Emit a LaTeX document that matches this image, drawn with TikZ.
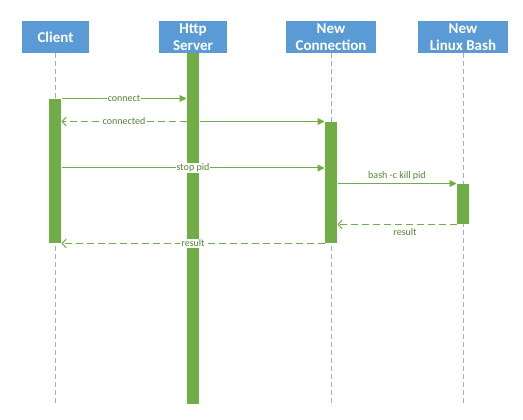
\documentclass[tikz,border=0pt]{standalone}
\usepackage{fontspec}
\setmainfont{Carlito}
\usepackage{tikz}
\usetikzlibrary{
    positioning,
    arrows.meta,
    calc
}
\definecolor{BoxBlue}{RGB}{91,155,213}
\definecolor{BarGreen}{RGB}{112,173,71}
\definecolor{MsgText}{RGB}{84,130,53}
\definecolor{LifeBlue}{RGB}{150,175,215}

\begin{document}
\begin{tikzpicture}[
            x=1pt, y=-1pt,
            line width=1pt,
            actor/.style={rectangle, fill=BoxBlue, text=white, minimum height=32pt, inner sep=0pt, align=center, font=\fontsize{15}{17}\selectfont\bfseries},
            bar/.style={rectangle, fill=BarGreen, minimum width=12pt, inner sep=0pt},
            lifeline/.style={draw=LifeBlue, line width=1pt, dash pattern=on 5pt off 3pt},
            msg/.style={draw=BarGreen, -{Triangle[length=7pt, width=7pt]}},
            ret/.style={draw=BarGreen, dash pattern=on 7pt off 4pt, -{Straight Barb[length=4pt, width=9pt]}},
            lbl/.style={font=\fontsize{10}{12}\selectfont, text=MsgText, inner sep=1pt},
        ]
        \useasboundingbox (0,0) rectangle (523,420);

        % ===== Actors =====
        \node[actor, minimum width=67pt] (client) at (55.5,37) {Client};
        \node[actor, minimum width=68pt] (http) at (193,37) {Http\\Server};
        \node[actor, minimum width=90pt] (conn) at (331,37) {New\\Connection};
        \node[actor, minimum width=90pt] (bash) at (463,37) {New\\Linux Bash};

        % ===== Lifelines =====
        \coordinate (bottom) at (0,403);
        \draw[lifeline] (client.south -| 55,0) -- (bottom -| 55,0);
        \draw[lifeline] (conn.south) -- (conn.south |- bottom);
        \draw[lifeline] (bash.south) -- (bash.south |- bottom);

        % ===== Activations =====
        \node[bar, minimum height=144pt] (clientbar) at (55,171) {};
        \node[bar, minimum height=351pt] (httpbar) at (193,228.5) {};
        \node[bar, minimum height=121pt] (connbar) at (331,182.5) {};
        \node[bar, minimum height=40pt] (bashbar) at (463,204) {};

        % ===== Messages =====
        \coordinate (stop) at (0,168);

        \draw[msg] (clientbar.north east) -- node[lbl, fill=white] {connect} (clientbar.north east -| httpbar.west);
        \draw[ret] (connbar.north -| httpbar.west) -- node[lbl, fill=white] {connected} (connbar.north -| clientbar.east);
        \draw[msg] (connbar.north -| httpbar.east) -- (connbar.north west);
        \draw[msg] (clientbar.east |- stop) -- node[lbl, fill=white] {stop pid} (connbar.west |- stop);
        \draw[msg] (connbar.east |- bashbar.north) -- node[lbl, above=2pt] {bash -c kill pid} (bashbar.north west);
        \draw[ret] (bashbar.south west) -- node[lbl, below=3pt, xshift=8pt] {result} (bashbar.south -| connbar.east);
        \draw[ret] (connbar.south west) -- node[lbl, fill=white] {result} (clientbar.south east);
        \end{tikzpicture}
\end{document}
